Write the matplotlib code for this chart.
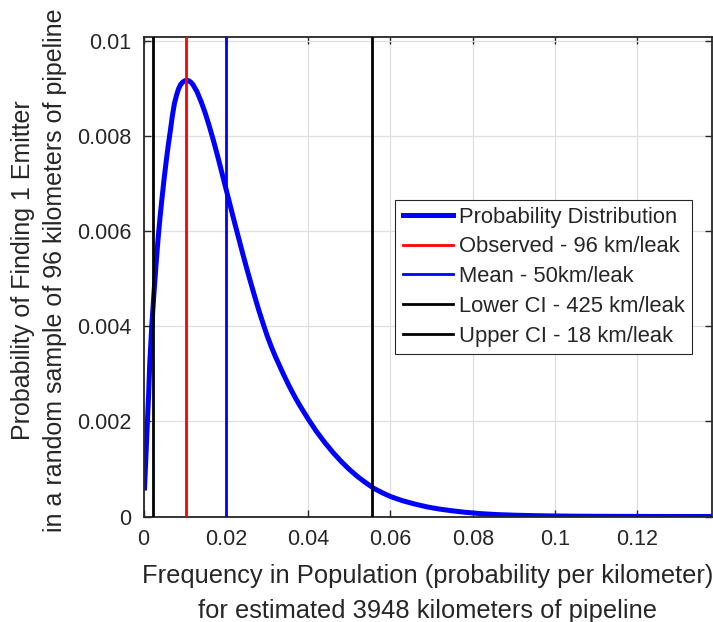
import numpy as np
import matplotlib
matplotlib.use('Agg')
import matplotlib.pyplot as plt
from matplotlib.ticker import FuncFormatter

## кривая распределения
freq = [0.00025, 0.0005, 0.00075, 0.0010, 0.00125, 0.0015, 0.00175, 0.0020, 0.0025, 0.0030,
        0.0035, 0.0040, 0.0045, 0.0050, 0.0055, 0.0060, 0.0065, 0.0070, 0.0075, 0.0080,
        0.0085, 0.0090, 0.0095, 0.0100, 0.0105, 0.0110, 0.0115, 0.0120, 0.0130, 0.0140,
        0.0150, 0.0160, 0.0170, 0.0180, 0.0190, 0.0200, 0.0210, 0.0220, 0.0230, 0.0240,
        0.0250, 0.0260, 0.0270, 0.0280, 0.0290, 0.0300, 0.0310, 0.0320, 0.0330, 0.0340,
        0.0350, 0.0360, 0.0370, 0.0380, 0.0390, 0.0400, 0.0420, 0.0440, 0.0460, 0.0480,
        0.0500, 0.0520, 0.0540, 0.0560, 0.0580, 0.0600, 0.0630, 0.0660, 0.0690, 0.0720,
        0.0750, 0.0780, 0.0820, 0.0860, 0.0900, 0.0950, 0.1000, 0.1050, 0.1100, 0.1150,
        0.1200, 0.1250, 0.1300, 0.1382]
prob = [0.00060, 0.00110, 0.00160, 0.00210, 0.00258, 0.00320, 0.00360, 0.00400, 0.00465, 0.00525,
        0.00580, 0.00628, 0.00670, 0.00710, 0.00746, 0.00780, 0.00810, 0.00842, 0.00868, 0.00885,
        0.00899, 0.00908, 0.00913, 0.00916, 0.00917, 0.00916, 0.00913, 0.00908, 0.00893, 0.00872,
        0.00848, 0.00820, 0.00790, 0.00758, 0.00724, 0.00690, 0.00656, 0.00622, 0.00589, 0.00556,
        0.00524, 0.00493, 0.00463, 0.00434, 0.00407, 0.00381, 0.00358, 0.00337, 0.00318, 0.00299,
        0.00281, 0.00264, 0.00248, 0.00233, 0.00219, 0.00205, 0.00179, 0.00156, 0.00135, 0.00116,
        0.00099, 0.00084, 0.00071, 0.00059, 0.00050, 0.00042, 0.00033, 0.00026, 0.00020, 0.000155,
        0.00012, 0.00009, 0.00006, 0.00004, 0.000028, 0.000018, 0.000011, 0.000007, 0.0000045, 0.000003,
        0.000002, 0.0000012, 0.0000008, 0.0000004]

## вертикальные линии: км на утечку
line_km = [96, 50, 425, 18]
line_labels = ['Observed - 96 km/leak', 'Mean - 50km/leak',
               'Lower CI - 425 km/leak', 'Upper CI - 18 km/leak']
line_colors = ['#ff0000', '#0000ff', '#000000', '#000000']

x_ticks = [0, 0.02, 0.04, 0.06, 0.08, 0.1, 0.12]
y_ticks = [0, 0.002, 0.004, 0.006, 0.008, 0.01]

text_color = '#262626'
plt.rcParams['font.family'] = ['Liberation Sans', 'DejaVu Sans']
plt.rcParams['text.color'] = text_color
plt.rcParams['axes.labelcolor'] = text_color

fig = plt.figure(figsize=(7.13, 6.22), dpi=100)
ax = fig.add_axes([0.2013, 0.1696, 0.7977, 0.7714])

ax.plot(freq, prob, color='#0000ff', linewidth=3.6, label='Probability Distribution',
        zorder=2, solid_joinstyle='round')
for km, lab, col in zip(line_km, line_labels, line_colors):
    ax.axvline(1 / km, color=col, linewidth=2.0, label=lab, zorder=3)

ax.set_xlim(0, 0.1382)
ax.set_ylim(0, max(prob) * 1.1)
ax.set_xticks(x_ticks)
ax.set_yticks(y_ticks)
fmt = FuncFormatter(lambda v, p: '%g' % v)
ax.xaxis.set_major_formatter(fmt)
ax.yaxis.set_major_formatter(fmt)

ax.grid(True, color='#dfdfdf', linewidth=0.9)
ax.set_axisbelow(True)
ax.tick_params(direction='in', length=5, width=1.0, colors=text_color, labelsize=15.5,
               top=True, right=True, pad=9)
for s in ax.spines.values():
    s.set_color(text_color)
    s.set_linewidth(1.3)

## подписи осей
fig.text(428 / 713, 1 - 564 / 622,
         'Frequency in Population (probability per kilometer)\nfor estimated 3948 kilometers of pipeline',
         fontsize=18.4, linespacing=1.6, ha='center', va='top', multialignment='center')
fig.text(39 / 713, 1 - 270 / 622,
         'Probability of Finding 1 Emitter\nin a random sample of 96 kilometers of pipeline',
         fontsize=18.0, linespacing=1.45, ha='center', va='center', rotation=90,
         multialignment='center')

leg = ax.legend(loc='center right', bbox_to_anchor=(0.964, 0.5), fontsize=15.8,
                frameon=True, fancybox=False, framealpha=1, edgecolor='#262626',
                handlelength=2.28, handletextpad=0.29, labelspacing=0.40, borderpad=0.32,
                borderaxespad=0)
leg.get_frame().set_linewidth(0.8)
for h in leg.get_lines()[1:]:
    h.set_linewidth(2.0)

fig.savefig('out.png', dpi=100)
